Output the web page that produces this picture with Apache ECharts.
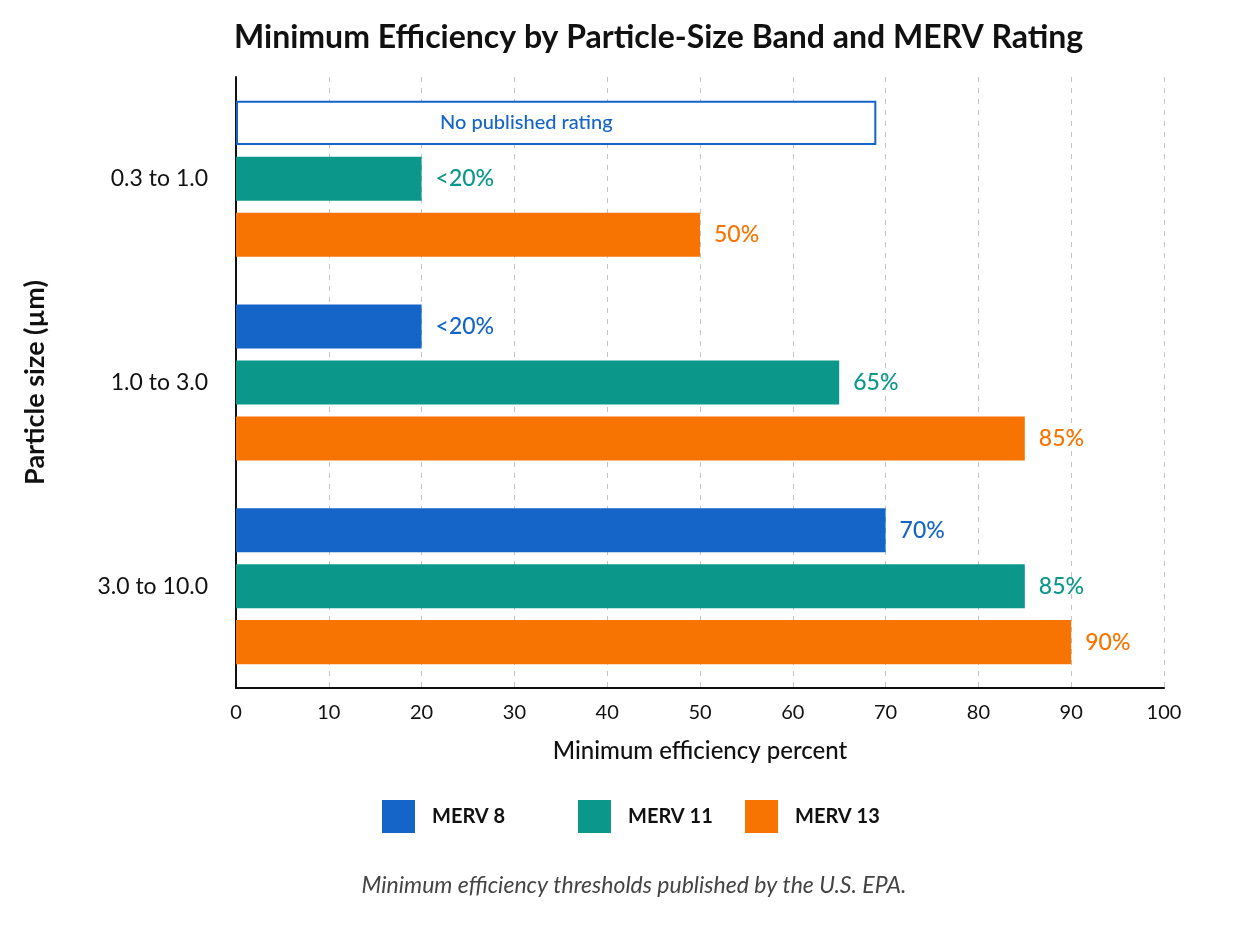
<!DOCTYPE html>
<html>
<head>
<meta charset="utf-8">
<script src="https://cdn.jsdelivr.net/npm/echarts@6/dist/echarts.min.js"></script>
<style>
  html, body { margin: 0; padding: 0; background: #fff; }
  #chart { width: 1245px; height: 933px; }
</style>
</head>
<body>
<div id="chart"></div>
<script>
// Data - particle size bands and minimum efficiency per MERV rating
const categories = ['0.3 to 1.0', '1.0 to 3.0', '3.0 to 10.0'];
const seriesNames = ['MERV 8', 'MERV 11', 'MERV 13'];
const merv8 = [null, 20, 70];   // null = no published rating
const merv11 = [20, 65, 85];
const merv13 = [50, 85, 90];
const lessThanValues = [20];     // values shown as "<20%"
const placeholderExtent = 69;    // width of the "No published rating" box
const xTicks = [0, 10, 20, 30, 40, 50, 60, 70, 80, 90, 100];

const colors = ['#1565c8', '#0b988b', '#f77402'];
const font = 'Lato, "Open Sans", sans-serif';

const chart = echarts.init(document.getElementById('chart'));

function buildData(values, color) {
  return values.map(v => {
    if (v === null) {
      return {
        value: placeholderExtent,
        itemStyle: { color: '#fff', borderColor: color, borderWidth: 2 },
        label: {
          show: true,
          position: [204, '50%'],
          verticalAlign: 'middle',
          formatter: 'No published rating',
          fontSize: 20,
          fontWeight: 500,
          color: color
        }
      };
    }
    return v;
  });
}

const allValues = [merv8, merv11, merv13];

// one legend per item so each sits where the reference puts it
const legendLefts = [377, 573, 740];
const legends = seriesNames.map((name, i) => ({
  data: [name],
  left: legendLefts[i],
  top: 795,
  itemWidth: 33,
  itemHeight: 33,
  icon: 'rect',
  textStyle: { fontFamily: font, fontSize: 20, fontWeight: 'bold', color: '#111', padding: [0, 0, 0, 12] }
}));

const option = {
  animation: false,
  title: {
    text: 'Minimum Efficiency by Particle-Size Band and MERV Rating',
    left: 229,
    top: 17,
    textStyle: { fontFamily: font, fontSize: 32, fontWeight: 'bold', color: '#111' }
  },
  legend: legends,
  grid: { left: 236, right: 81, top: 77, bottom: 245 },
  xAxis: {
    type: 'value',
    min: xTicks[0],
    max: xTicks[xTicks.length - 1],
    interval: 10,
    name: 'Minimum efficiency percent',
    nameLocation: 'middle',
    nameGap: 51,
    nameTextStyle: { fontFamily: font, fontSize: 24, fontWeight: 500, color: '#111' },
    axisLine: { show: true, lineStyle: { color: '#111', width: 2 } },
    axisTick: { show: false },
    axisLabel: { fontFamily: font, fontSize: 20, color: '#111', margin: 15 },
    splitLine: { show: true, lineStyle: { color: '#c4c4c4', type: [5, 6], width: 1 } }
  },
  yAxis: {
    type: 'category',
    data: categories,
    inverse: true,
    name: 'Particle size (µm)',
    nameLocation: 'middle',
    nameRotate: 90,
    nameGap: 187,
    nameTextStyle: { fontFamily: font, fontSize: 27, fontWeight: 'bold', color: '#111' },
    axisLine: { show: true, lineStyle: { color: '#111', width: 2 } },
    axisTick: { show: false },
    axisLabel: { fontFamily: font, fontSize: 23, color: '#111', margin: 28 }
  },
  series: seriesNames.map((name, i) => ({
    name: name,
    type: 'bar',
    data: buildData(allValues[i], colors[i]),
    barCategoryGap: '23.4%',
    barGap: '27%',
    itemStyle: { color: colors[i] },
    label: {
      show: true,
      position: 'right',
      distance: 14,
      fontFamily: font,
      fontSize: 23,
      fontWeight: 500,
      color: colors[i],
      formatter: p => (lessThanValues.includes(p.value) ? '<' : '') + p.value + '%'
    }
  })),
  graphic: [{
    type: 'text',
    x: 634,
    y: 886,
    style: {
      text: 'Minimum efficiency thresholds published by the U.S. EPA.',
      font: 'italic 23px ' + font,
      fill: '#444',
      align: 'center',
      verticalAlign: 'middle'
    }
  }]
};

option && chart.setOption(option);
</script>
</body>
</html>
